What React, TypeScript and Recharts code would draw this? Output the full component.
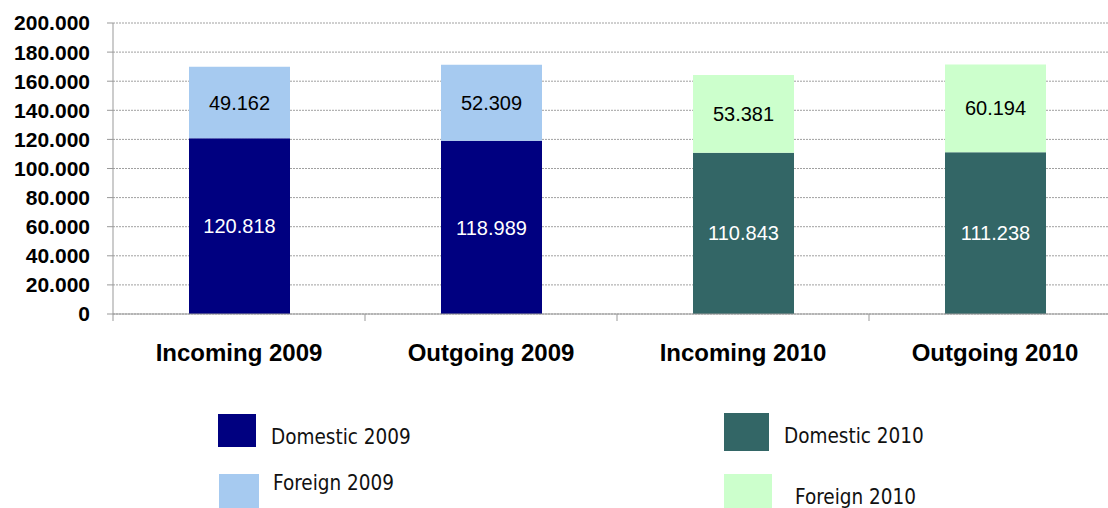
import React from 'react';
import { BarChart, Bar, XAxis, YAxis, CartesianGrid, LabelList } from 'recharts';

const categories = ['Incoming 2009', 'Outgoing 2009', 'Incoming 2010', 'Outgoing 2010'];
const domestic2009 = [120818, 118989, 0, 0];
const foreign2009 = [49162, 52309, 0, 0];
const domestic2010 = [0, 0, 110843, 111238];
const foreign2010 = [0, 0, 53381, 60194];
const yTicks = [0, 20000, 40000, 60000, 80000, 100000, 120000, 140000, 160000, 180000, 200000];

const series = [
  { key: 'domestic2009', name: 'Domestic 2009', color: '#000080', label: '#ffffff' },
  { key: 'foreign2009', name: 'Foreign 2009', color: '#a6caf0', label: '#000000' },
  { key: 'domestic2010', name: 'Domestic 2010', color: '#336666', label: '#ffffff' },
  { key: 'foreign2010', name: 'Foreign 2010', color: '#ccffcc', label: '#000000' },
];

const data = categories.map((name, i) => ({
  name,
  domestic2009: domestic2009[i],
  foreign2009: foreign2009[i],
  domestic2010: domestic2010[i],
  foreign2010: foreign2010[i],
}));

const fmt = (v: number) => (v ? String(v).replace(/\B(?=(\d{3})+(?!\d))/g, '.') : '0');

const arial = '"Liberation Sans", Arial, sans-serif';
const legendFont = '"DejaVu Sans Condensed", "DejaVu Sans", Tahoma, sans-serif';

const CategoryTick = (props: any) => {
  const { x, y, payload } = props;
  const half = payload && payload.offset ? payload.offset : 126;
  return (
    <g>
      <line x1={x - half} x2={x - half} y1={y} y2={y + 7} stroke="#999" />
      <text
        x={x}
        y={y + 38}
        textAnchor="middle"
        dominantBaseline="central"
        fontFamily={arial}
        fontWeight="bold"
        fontSize={24}
        fill="#000"
      >
        {payload.value}
      </text>
    </g>
  );
};

// legend squares / text placed like the original sheet
const legendItems = [
  { s: series[0], box: [218, 414, 38, 33], tx: 271, ty: 437 },
  { s: series[1], box: [219, 474, 40, 34], tx: 273, ty: 483 },
  { s: series[2], box: [724, 413, 45, 38], tx: 784, ty: 436 },
  { s: series[3], box: [724, 474, 48, 34], tx: 795, ty: 497 },
];

export default function App() {
  return (
    <div style={{ position: 'fixed', left: 0, top: 0, width: 1108, height: 508, overflow: 'hidden', background: '#fff' }}>
      <BarChart
        width={1130}
        height={508}
        data={data}
        margin={{ top: 23, right: 9, left: 0, bottom: 154 }}
      >
        <CartesianGrid vertical={false} stroke="#a0a0a0" strokeDasharray="2 1" />
        <XAxis
          dataKey="name"
          axisLine={{ stroke: '#999' }}
          tickLine={false}
          tickSize={0}
          tickMargin={0}
          height={40}
          tick={<CategoryTick />}
          interval={0}
        />
        <YAxis
          width={113}
          domain={[0, 200000]}
          ticks={yTicks}
          interval={0}
          tickFormatter={fmt}
          axisLine={{ stroke: '#999' }}
          tickLine={{ stroke: '#999' }}
          tickSize={6}
          tickMargin={17}
          tick={{ fontFamily: arial, fontWeight: 'bold', fontSize: 21, fill: '#000' }}
        />
        {series.map((s) => (
          <Bar key={s.key} dataKey={s.key} name={s.name} stackId="a" fill={s.color} barSize={101} isAnimationActive={false}>
            <LabelList
              dataKey={s.key}
              position="center"
              formatter={(v: any) => (v ? fmt(v) : '')}
              fill={s.label}
              fontFamily={arial}
              fontSize={20}
            />
          </Bar>
        ))}
      </BarChart>
      {legendItems.map((it) => (
        <React.Fragment key={it.s.key}>
          <div
            style={{
              position: 'absolute',
              left: it.box[0],
              top: it.box[1],
              width: it.box[2],
              height: it.box[3],
              background: it.s.color,
            }}
          />
          <div
            style={{
              position: 'absolute',
              left: it.tx,
              top: it.ty - 14,
              height: 28,
              lineHeight: '28px',
              fontFamily: legendFont,
              fontSize: 20.5,
              color: '#111',
              whiteSpace: 'nowrap',
            }}
          >
            {it.s.name}
          </div>
        </React.Fragment>
      ))}
    </div>
  );
}
